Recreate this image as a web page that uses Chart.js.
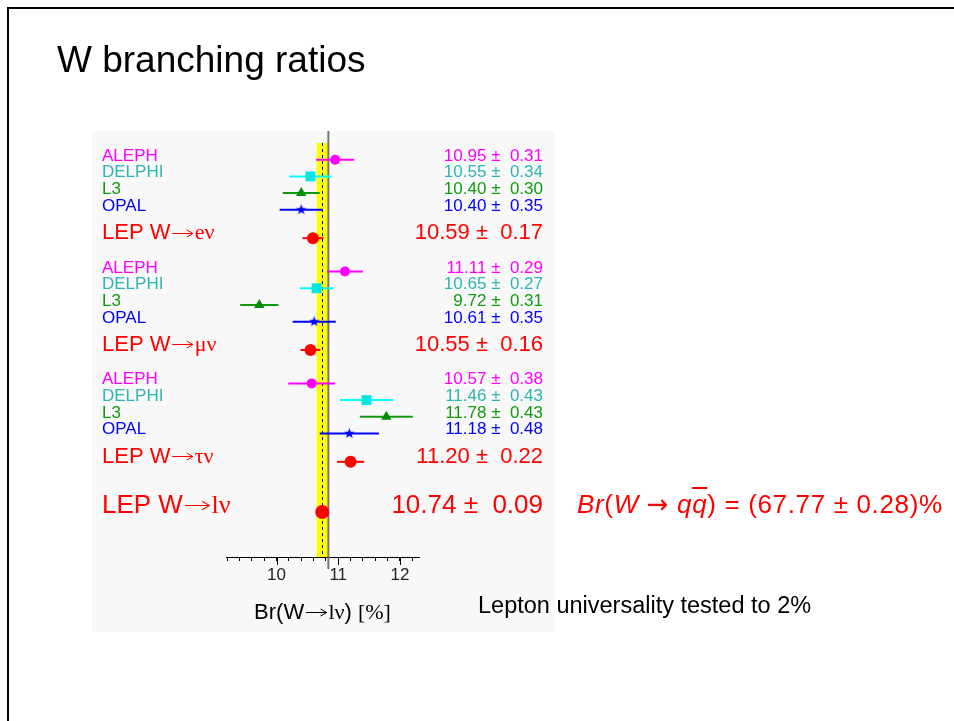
<!DOCTYPE html>
<html>
<head>
<meta charset="utf-8">
<title>W branching ratios</title>
<script src="https://cdn.jsdelivr.net/npm/chart.js@4.4.1/dist/chart.umd.min.js"></script>
<style>
  html, body { margin: 0; padding: 0; background: #fff; }
  body { width: 954px; height: 721px; position: relative; overflow: hidden; font-family: 'Liberation Sans', Arial, sans-serif; }
  #frame { position: absolute; left: 7px; top: 7px; width: 960px; height: 730px; border-top: 2px solid #000; border-left: 2px solid #000; }
  #chart { position: absolute; left: 0; top: 0; }
  .txt { position: absolute; white-space: nowrap; line-height: 1; }
  #title { left: 57px; top: 40.7px; font-size: 37px; color: #000; }
  #qq { left: 577px; top: 491px; font-size: 26px; color: #ff0000; letter-spacing: 0.65px; }
  #qq .arr { font-family: 'DejaVu Sans', sans-serif; font-weight: normal; line-height: 1; }
  #note { left: 478px; top: 593.5px; font-size: 23.5px; color: #000; }
  .ov { text-decoration: overline; }
</style>
</head>
<body>
<div id="frame"></div>
<canvas id="chart" width="954" height="721"></canvas>
<div class="txt" id="title">W branching ratios</div>
<div class="txt" id="qq"><i>Br</i>(<i>W</i> <span class="arr">&rarr;</span> <i>q</i><i class="ov">q</i>) = (67.77 ± 0.28)%</div>
<div class="txt" id="note">Lepton universality tested to 2%</div>

<script>
// ---- data ----
const EXPERIMENTS = ['ALEPH', 'DELPHI', 'L3', 'OPAL'];
const CHANNELS = ['e', 'μ', 'τ'];

const BR_E = [10.95, 10.55, 10.40, 10.40];
const ERR_E = [0.31, 0.34, 0.30, 0.35];
const BR_MU = [11.11, 10.65, 9.72, 10.61];
const ERR_MU = [0.29, 0.27, 0.31, 0.35];
const BR_TAU = [10.57, 11.46, 11.78, 11.18];
const ERR_TAU = [0.38, 0.43, 0.43, 0.48];

const LEP_BR = [10.59, 10.55, 11.20];
const LEP_ERR = [0.17, 0.16, 0.22];
const LEP_L_BR = 10.74;
const LEP_L_ERR = 0.09;
const SM_BR = 10.84;

// row slots on the (hidden) vertical axis
const GROUP_ROWS = [1.6, 8.3, 15.0];
const LEP_ROW_OFFSET = 4.7;
const LEP_L_ROW = 22.7;

const X_MINOR_TICKS = [9.2, 9.4, 9.6, 9.8, 10, 10.2, 10.4, 10.6, 10.8, 11, 11.2, 11.4, 11.6, 11.8, 12, 12.2];
const X_LABEL_TICKS = [10, 11, 12];

// ---- styles ----
const SANS = "'Liberation Sans', Arial, sans-serif";
const SERIF = "'Liberation Serif', 'Times New Roman', serif";
const BAR_COLORS = ['#ff00ff', '#00ffff', '#119911', '#0000ff'];
const MARK_COLORS = ['#ff00ff', '#00e6e6', '#008f00', '#0000ff'];
const TEXT_COLORS = ['#ff00ff', '#2db5b5', '#119911', '#0000ff'];
const LEP_COLOR = '#ff0000';

function makeStar(size, color) {
    const c = document.createElement('canvas');
    c.width = c.height = size;
    const g = c.getContext('2d');
    const r = size / 2, ri = r * 0.42;
    g.beginPath();
    for (let k = 0; k < 10; k++) {
        const a = -Math.PI / 2 + k * Math.PI / 5;
        const rr = k % 2 ? ri : r;
        g.lineTo(r + rr * Math.cos(a), r + rr * Math.sin(a));
    }
    g.closePath();
    g.fillStyle = color;
    g.fill();
    return c;
}

const POINT_STYLES = ['circle', 'rect', 'triangle', makeStar(11, MARK_COLORS[3])];
const POINT_RADII = [5, 7, 6, 5];

const BR = [BR_E, BR_MU, BR_TAU];
const ERR = [ERR_E, ERR_MU, ERR_TAU];

// ---- datasets ----
const datasets = [];

function errorBar(v, e, row, color) {
    datasets.push({
        data: [{ x: v - e, y: row }, { x: v + e, y: row }],
        showLine: true, borderColor: color, borderWidth: 2,
        pointRadius: 0, order: 2
    });
}

EXPERIMENTS.forEach((name, i) => {
    const pts = [];
    CHANNELS.forEach((ch, g) => {
        const row = GROUP_ROWS[g] + i;
        pts.push({ x: BR[g][i], y: row });
        errorBar(BR[g][i], ERR[g][i], row, BAR_COLORS[i]);
    });
    datasets.push({
        label: name, data: pts,
        pointStyle: POINT_STYLES[i], pointRadius: POINT_RADII[i],
        backgroundColor: MARK_COLORS[i], borderColor: MARK_COLORS[i], borderWidth: 0,
        order: 0
    });
});

const lepPts = [];
CHANNELS.forEach((ch, g) => {
    const row = GROUP_ROWS[g] + LEP_ROW_OFFSET;
    lepPts.push({ x: LEP_BR[g], y: row });
    errorBar(LEP_BR[g], LEP_ERR[g], row, LEP_COLOR);
});
datasets.push({
    label: 'LEP', data: lepPts, pointStyle: 'circle', pointRadius: 6,
    backgroundColor: LEP_COLOR, borderColor: LEP_COLOR, borderWidth: 0, order: 0
});
errorBar(LEP_L_BR, LEP_L_ERR, LEP_L_ROW, LEP_COLOR);
datasets.push({
    label: 'LEP l', data: [{ x: LEP_L_BR, y: LEP_L_ROW }], pointStyle: 'circle', pointRadius: 7,
    backgroundColor: LEP_COLOR, borderColor: LEP_COLOR, borderWidth: 0, order: 0
});

// ---- drawing helpers ----
// parts: text runs, or {arrow: size} for a thin symbol-font style arrow
function drawRich(ctx, parts, x, y, align) {
    let total = 0;
    const widths = parts.map(p => {
        let w;
        if (p.arrow) {
            w = p.arrow * 1.1;
        } else {
            ctx.font = p.font;
            w = ctx.measureText(p.text).width;
        }
        total += w;
        return w;
    });
    let cx = x;
    if (align === 'right') cx = x - total;
    if (align === 'center') cx = x - total / 2;
    ctx.textAlign = 'left';
    ctx.textBaseline = 'alphabetic';
    parts.forEach((p, i) => {
        if (p.arrow) {
            const s = p.arrow, ay = Math.round(y - 0.3 * s) + 0.5;
            const x0 = cx + 0.08 * s, x1 = cx + widths[i] - 0.08 * s;
            ctx.save();
            ctx.strokeStyle = p.color;
            ctx.lineWidth = Math.max(1, s / 24);
            ctx.beginPath();
            ctx.moveTo(x0, ay);
            ctx.lineTo(x1, ay);
            ctx.moveTo(x1 - 0.28 * s, ay - 0.16 * s);
            ctx.lineTo(x1, ay);
            ctx.lineTo(x1 - 0.28 * s, ay + 0.16 * s);
            ctx.stroke();
            ctx.restore();
        } else {
            ctx.font = p.font;
            ctx.fillStyle = p.color;
            ctx.fillText(p.text, cx, y);
        }
        cx += widths[i];
    });
}

// "W→xν" style label pieces
function decay(prefix, lep, size, color) {
    return [
        { text: prefix, font: `${size}px ${SANS}`, color },
        { arrow: size, color },
        { text: lep + '\u03bd', font: `${size}px ${SERIF}`, color }
    ];
}

const fmt = (v, e) => `${v.toFixed(2)} \u00b1  ${e.toFixed(2)}`;

const slidePlugin = {
    id: 'slide',
    beforeDraw(chart) {
        const ctx = chart.ctx;
        ctx.save();
        ctx.fillStyle = '#f8f8f8';
        ctx.fillRect(92, 131, 463, 501);
        ctx.restore();
    },
    beforeDatasetsDraw(chart) {
        const { ctx, chartArea, scales: { x, y } } = chart;
        ctx.save();
        // combined result band
        const bx0 = x.getPixelForValue(LEP_L_BR - LEP_L_ERR);
        const bx1 = x.getPixelForValue(LEP_L_BR + LEP_L_ERR);
        const by0 = y.getPixelForValue(0.6);
        ctx.fillStyle = '#ffff00';
        ctx.fillRect(bx0, by0, bx1 - bx0, chartArea.bottom - by0);
        // SM line
        const sx = x.getPixelForValue(SM_BR);
        ctx.strokeStyle = '#777';
        ctx.lineWidth = 2;
        ctx.beginPath();
        ctx.moveTo(sx, chartArea.top - 2);
        ctx.lineTo(sx, chartArea.bottom + 12);
        ctx.stroke();
        // central value, dashed
        const cx = Math.round(x.getPixelForValue(LEP_L_BR)) + 0.5;
        ctx.strokeStyle = '#000';
        ctx.lineWidth = 1;
        ctx.setLineDash([3, 3]);
        ctx.beginPath();
        ctx.moveTo(cx, by0);
        ctx.lineTo(cx, chartArea.bottom);
        ctx.stroke();
        ctx.restore();
    },
    afterDraw(chart) {
        const { ctx, chartArea, scales: { x, y } } = chart;
        ctx.save();
        // major ticks
        ctx.strokeStyle = '#000';
        ctx.lineWidth = 1;
        X_LABEL_TICKS.forEach(v => {
            const px = Math.round(x.getPixelForValue(v)) + 0.5;
            ctx.beginPath();
            ctx.moveTo(px, chartArea.bottom);
            ctx.lineTo(px, chartArea.bottom + 8);
            ctx.stroke();
        });

        const small = `17px ${SANS}`;
        CHANNELS.forEach((ch, g) => {
            EXPERIMENTS.forEach((name, i) => {
                const py = y.getPixelForValue(GROUP_ROWS[g] + i) + 1;
                drawRich(ctx, [{ text: name, font: small, color: TEXT_COLORS[i] }], 102, py, 'left');
                drawRich(ctx, [{ text: fmt(BR[g][i], ERR[g][i]), font: small, color: TEXT_COLORS[i] }], 543, py, 'right');
            });
            const py = y.getPixelForValue(GROUP_ROWS[g] + LEP_ROW_OFFSET) + 1;
            drawRich(ctx, decay('LEP W', ch, 22, LEP_COLOR), 102, py, 'left');
            drawRich(ctx, [{ text: fmt(LEP_BR[g], LEP_ERR[g]), font: `22px ${SANS}`, color: LEP_COLOR }], 543, py, 'right');
        });

        const ly = y.getPixelForValue(LEP_L_ROW) + 1;
        drawRich(ctx, decay('LEP W', 'l', 26, LEP_COLOR), 102, ly, 'left');
        drawRich(ctx, [{ text: fmt(LEP_L_BR, LEP_L_ERR), font: `26px ${SANS}`, color: LEP_COLOR }], 543, ly, 'right');

        // axis title
        drawRich(ctx, decay('Br(W', 'l', 22, '#000').concat([
            { text: ') ', font: `22px ${SANS}`, color: '#000' },
            { text: '[%]', font: `22px ${SERIF}`, color: '#000' }
        ]), (chartArea.left + chartArea.right) / 2, chartArea.bottom + 62, 'center');
        ctx.restore();
    }
};

new Chart(document.getElementById('chart'), {
    type: 'scatter',
    data: { datasets },
    options: {
        responsive: false,
        animation: false,
        events: [],
        layout: { padding: { left: 226, right: 535, top: 133, bottom: 104 } },
        plugins: { legend: { display: false }, tooltip: { enabled: false } },
        scales: {
            x: {
                type: 'linear', min: 9.18, max: 12.31,
                afterBuildTicks: s => { s.ticks = X_MINOR_TICKS.map(v => ({ value: v })); },
                afterFit: s => { s.height = 60; },
                border: { display: true, color: '#000', width: 1 },
                grid: { drawOnChartArea: false, drawTicks: true, tickLength: 4, tickColor: '#000', tickWidth: 1 },
                ticks: {
                    autoSkip: false, maxRotation: 0, padding: 4, color: '#222',
                    font: { family: SANS, size: 17 },
                    callback: v => X_LABEL_TICKS.includes(v) ? String(v) : ''
                }
            },
            y: { type: 'linear', reverse: true, min: 0, max: 25.4, display: false }
        }
    },
    plugins: [slidePlugin]
});
</script>
</body>
</html>
